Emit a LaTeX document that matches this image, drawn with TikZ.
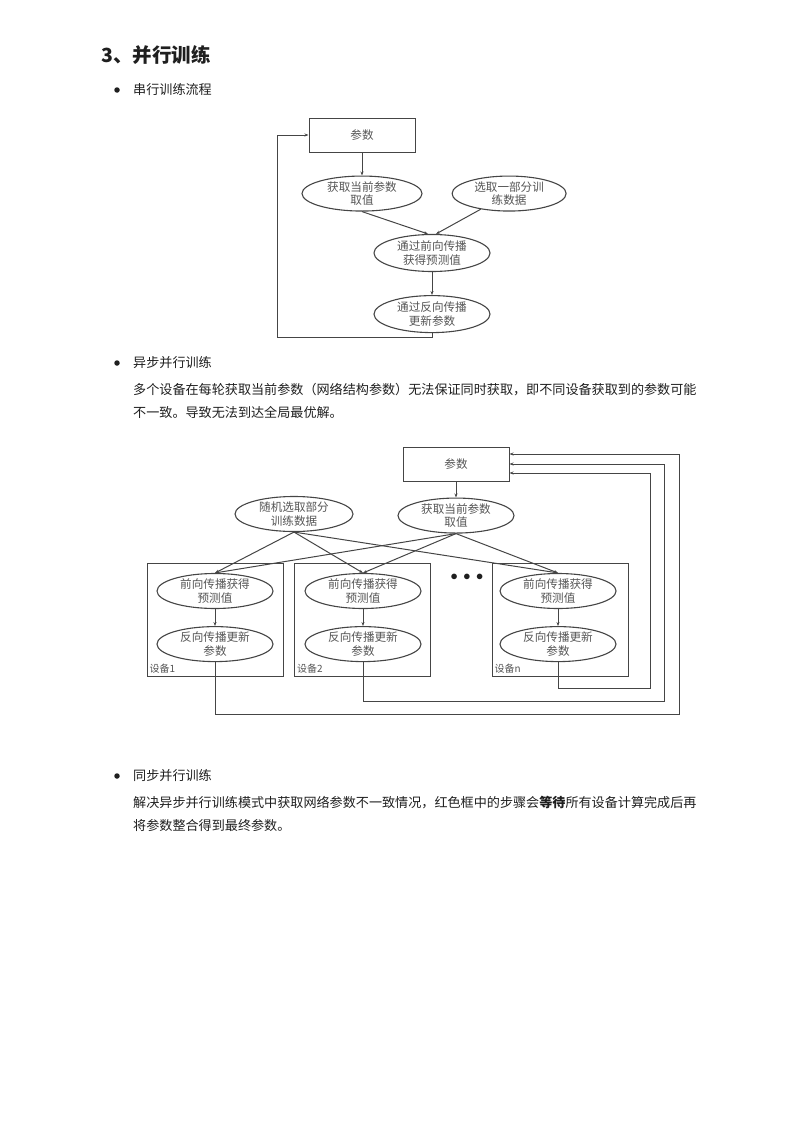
\documentclass[tikz,border=0pt]{standalone}
\usepackage{fontspec}
\newfontfamily\cjk{Noto Sans CJK SC}
\usetikzlibrary{arrows.meta,positioning,shapes.geometric}

\definecolor{ink}{HTML}{1F1F1F}
\definecolor{diag}{HTML}{454545}
\definecolor{dtext}{HTML}{555555}

\begin{document}
\begin{tikzpicture}[
  x=1pt,y=-1pt,
  font=\cjk,
  head/.style={font=\cjk\bfseries\fontsize{19.5}{22}\selectfont,text=ink,anchor=west,inner sep=0pt},
  body/.style={font=\cjk\fontsize{13.1}{16}\selectfont,text=ink,anchor=west,inner sep=0pt},
  dot/.style={circle,fill=ink,minimum size=5.5pt,inner sep=0pt},
  box/.style={draw=diag,line width=1pt,minimum width=106pt,minimum height=34pt,
              font=\cjk\fontsize{11.6}{13.5}\selectfont,text=dtext},
  oval/.style={ellipse,draw=diag,line width=1.1pt,minimum width=116pt,minimum height=35pt,
               inner sep=0pt,align=center,font=\cjk\fontsize{11.6}{13.5}\selectfont,text=dtext},
  dev/.style={draw=diag,line width=1pt,minimum width=136pt,minimum height=113pt},
  devlbl/.style={font=\cjk\fontsize{10}{11}\selectfont,text=dtext,anchor=south west,inner sep=3pt},
  ar/.style={-{Stealth[length=4pt,width=3pt]},draw=diag,line width=1pt},
  ln/.style={draw=diag,line width=1pt}
]
\useasboundingbox (0,0) rectangle (800,1132);

% page text
\node[head] (title) at (101,55) {3、并行训练};
\node[dot] (d1) at (117,90) {};
\node[body] (t1) at (133,90) {串行训练流程};
\node[dot] (d2) at (117,363) {};
\node[body] (t2) at (133,363) {异步并行训练};
\node[body] (p1) at (133,390) {多个设备在每轮获取当前参数（网络结构参数）无法保证同时获取，即不同设备获取到的参数可能};
\node[body] (p2) at (133,412) {不一致。导致无法到达全局最优解。};
\node[dot] (d3) at (117,776) {};
\node[body] (t3) at (133,776) {同步并行训练};
\node[body] (p3) at (133,803) {解决异步并行训练模式中获取网络参数不一致情况，红色框中的步骤会{\bfseries 等待}所有设备计算完成后再};
\node[body] (p4) at (133,825) {将参数整合得到最终参数。};

% serial training
\node[box] (par) at (362,135) {参数};
\node[oval,below=23pt of par,minimum width=120pt] (cur) {获取当前参数\\取值};
\node[oval,right=29pt of cur,minimum width=114pt] (sel) {选取一部分训\\练数据};
\node[oval,minimum height=37pt] (fwd) at (432,253) {通过前向传播\\获得预测值};
\node[oval,below=23pt of fwd,minimum height=37pt] (bwd) {通过反向传播\\更新参数};
\coordinate (loop) at (277,337);

\draw[ar] (par) -- (cur);
\draw[ar] (cur.south) -- ([xshift=-4pt]fwd.north);
\draw[ar] (sel) -- ([xshift=4pt]fwd.north);
\draw[ar] (fwd) -- (bwd);
\draw[ar] (bwd.south) |- (loop) |- (par.west);

% asynchronous training
\node[box] (par2) at (456,464) {参数};
\node[oval,below=16pt of par2] (cur2) {获取当前参数\\取值};
\node[oval,minimum width=118pt] (data) at (294,514) {随机选取部分\\训练数据};

\node[dev] (dev1) at (215,619.5) {};
\node[dev] (dev2) at (362.5,619.5) {};
\node[dev] (devn) at (560,619.5) {};
\node[devlbl] (l1) at (dev1.south west) {设备1};
\node[devlbl] (l2) at (dev2.south west) {设备2};
\node[devlbl] (ln) at (devn.south west) {设备n};
\node[text=ink,font=\fontsize{15}{15}\selectfont] (dots) at (467,577) {$\bullet\,\bullet\,\bullet$};

\node[oval] (f1) at (215,591) {前向传播获得\\预测值};
\node[oval,below=17pt of f1] (b1) {反向传播更新\\参数};
\node[oval] (f2) at (363,591) {前向传播获得\\预测值};
\node[oval,below=17pt of f2] (b2) {反向传播更新\\参数};
\node[oval] (fn) at (558,591) {前向传播获得\\预测值};
\node[oval,below=17pt of fn] (bn) {反向传播更新\\参数};

\draw[ar] (par2) -- (cur2);
\draw[ar] (data.south) -- (f1.north);
\draw[ar] (data.south) -- (f2.north);
\draw[ar] (data.south) -- (fn.north);
\draw[ar] (cur2.south) -- (f1.north);
\draw[ar] (cur2.south) -- (f2.north);
\draw[ar] (cur2.south) -- (fn.north);
\draw[ar] (f1) -- (b1);
\draw[ar] (f2) -- (b2);
\draw[ar] (fn) -- (bn);

\coordinate (back1) at (679,714);
\coordinate (back2) at (664,701);
\coordinate (backn) at (650,688);
\draw[ar] (b1.south) |- (back1) |- ([yshift=10pt]par2.east);
\draw[ar] (b2.south) |- (back2) |- (par2.east);
\draw[ar] (bn.south) |- (backn) |- ([yshift=-9pt]par2.east);
\end{tikzpicture}
\end{document}
